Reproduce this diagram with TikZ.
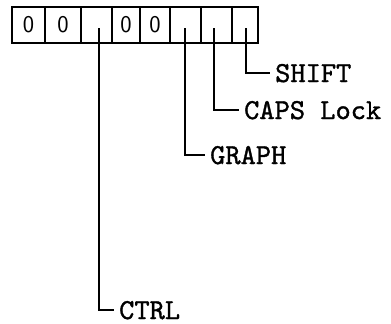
\documentclass[tikz,border=0pt]{standalone}
\usepackage{fontspec}
\newfontfamily\typew[FakeBold=1.2]{lmmono10-regular.otf}
\begin{document}
\begin{tikzpicture}[x=1pt,y=-1pt,
  cellbox/.style={draw,line width=1.7pt,inner sep=0pt,outer sep=0pt,minimum height=36pt,font=\sffamily\fontsize{24}{24}\selectfont},
  lead/.style={line width=2pt},
  lbl/.style={anchor=west,inner xsep=5pt,inner ysep=0pt,text depth=0pt,font=\typew\fontsize{29}{29}\selectfont}]
\useasboundingbox (0,0) rectangle (391,324);
% cells: borders 12,45,81,112,140,170,201,232,258 ; y 7..43
\node[cellbox,minimum width=33pt] (c1) at (28.5,25) {0};
\node[cellbox,minimum width=36pt] (c2) at (63,25) {0};
\node[cellbox,minimum width=31pt] (c3) at (96.5,25) {};
\node[cellbox,minimum width=28pt] (c4) at (126,25) {0};
\node[cellbox,minimum width=30pt] (c5) at (155,25) {0};
\node[cellbox,minimum width=31pt] (c6) at (185.5,25) {};
\node[cellbox,minimum width=31pt] (c7) at (216.5,25) {};
\node[cellbox,minimum width=26pt] (c8) at (245,25) {};
% tick tops
\coordinate (t3) at (99,28);
\coordinate (t6) at (185,28);
\coordinate (t7) at (214,28);
\coordinate (t8) at (246,28);
% labels
\node[lbl] (shift) at (270,73) {SHIFT};
\node[lbl] (caps) at (239,110) {CAPS Lock};
\node[lbl] (graph) at (205,155) {GRAPH};
\node[lbl] (ctrl) at (114,310) {CTRL};
% leaders
\draw[lead] (t8) |- (shift.west);
\draw[lead] (t7) |- (caps.west);
\draw[lead] (t6) |- (graph.west);
\draw[lead] (t3) |- (ctrl.west);
\end{tikzpicture}
\end{document}
